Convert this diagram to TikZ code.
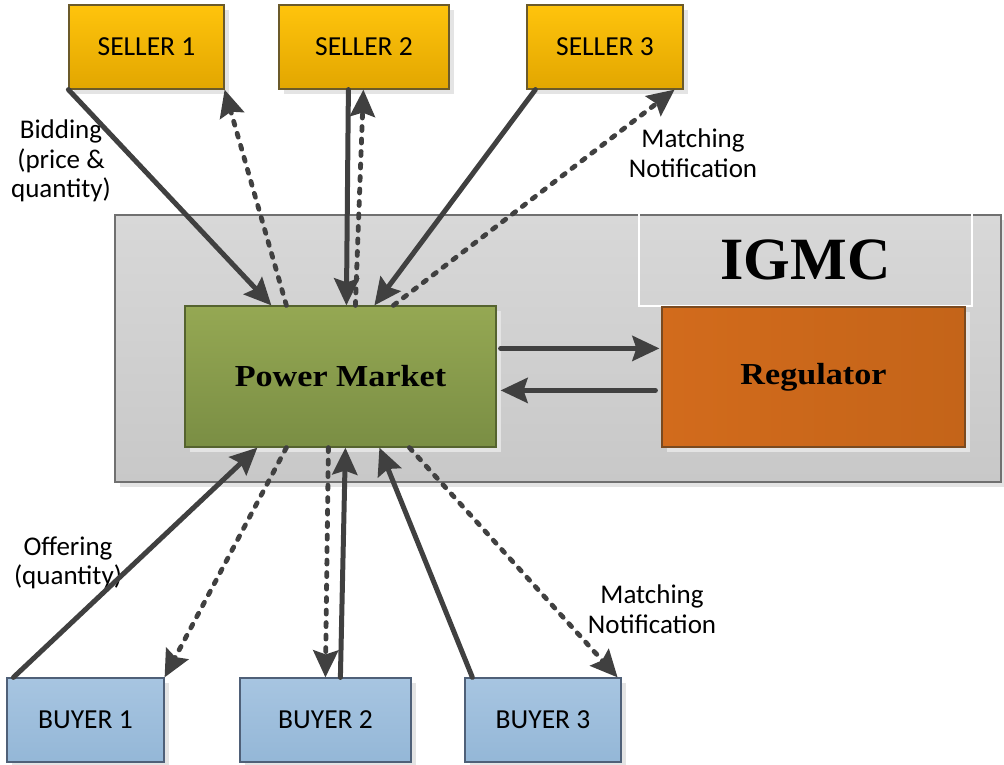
\documentclass[tikz,border=0pt]{standalone}
\usepackage{fontspec}
\setmainfont{Carlito}
\newfontfamily\serifb{Liberation Serif}[FakeStretch=1.12]
\newfontfamily\serifn{Liberation Serif}
\usetikzlibrary{arrows.meta,shadows}
\definecolor{linec}{HTML}{404040}
\definecolor{selltop}{HTML}{FFC40C}
\definecolor{sellbot}{HTML}{E2A600}
\definecolor{sellbd}{HTML}{6B5A2A}
\definecolor{pmtop}{HTML}{95A853}
\definecolor{pmbot}{HTML}{7A8E44}
\definecolor{pmbd}{HTML}{55632F}
\definecolor{regl}{HTML}{D26B1C}
\definecolor{regr}{HTML}{C46419}
\definecolor{regbd}{HTML}{7A4A20}
\definecolor{buytop}{HTML}{A7C5E1}
\definecolor{buybot}{HTML}{94B7D7}
\definecolor{buybd}{HTML}{4F6078}
\definecolor{grtop}{HTML}{D8D8D8}
\definecolor{grbot}{HTML}{C8C8C8}
\definecolor{grbd}{HTML}{707070}
\definecolor{shadowc}{HTML}{E4E4E4}
\begin{document}
\begin{tikzpicture}[x=1pt,y=-1pt,
  box/.style={rectangle, inner sep=0pt, line width=1.2pt,
    drop shadow={shadow xshift=5pt, shadow yshift=-5pt, fill=shadowc, opacity=1},
    font=\fontsize{27.5}{30}\selectfont},
  sellerbox/.style={box, draw=sellbd, top color=selltop, bottom color=sellbot,
    minimum height=84pt},
  buyerbox/.style={box, draw=buybd, top color=buytop, bottom color=buybot,
    minimum height=84pt},
  lbl/.style={align=center, inner sep=0pt, font=\fontsize{27}{29.5}\selectfont},
  arr/.style={draw=linec, line width=5pt, line cap=round,
    -{Stealth[length=27pt,width=25pt,inset=4pt,line cap=butt]}},
  darr/.style={arr, line width=4.8pt, line cap=round, dash pattern=on 4pt off 8.5pt}
]
\useasboundingbox (0,0) rectangle (1004,764);

% IGMC container
\node[box, draw=grbd, top color=grtop, bottom color=grbot,
  minimum width=886pt, minimum height=267pt] (igmc) at (558,348.5) {};
\node[rectangle, draw=white, line width=1.2pt, minimum width=333pt, minimum height=93pt,
  inner sep=0pt, font=\serifn\bfseries\fontsize{60}{60}\selectfont] (title) at (805.5,259.5) {IGMC};

% inner blocks
\node[box, draw=pmbd, top color=pmtop, bottom color=pmbot,
  minimum width=311pt, minimum height=141pt,
  font=\serifb\bfseries\fontsize{30.5}{32}\selectfont] (pm) at (340.5,376.5) {Power Market};
\node[box, draw=regbd, left color=regl, right color=regr,
  minimum width=303pt, minimum height=140pt,
  font=\serifb\bfseries\fontsize{30.5}{32}\selectfont] (reg) at (813.5,377) {Regulator};

% sellers
\node[sellerbox, minimum width=155pt] (s1) at (146.5,47) {SELLER 1};
\node[sellerbox, minimum width=170pt] (s2) at (364,47) {SELLER 2};
\node[sellerbox, minimum width=156pt] (s3) at (605,47) {SELLER 3};

% buyers
\node[buyerbox, minimum width=157pt] (b1) at (85.5,720) {BUYER 1};
\node[buyerbox, minimum width=171pt] (b2) at (325.5,720) {BUYER 2};
\node[buyerbox, minimum width=156pt] (b3) at (543,720) {BUYER 3};

% labels
\node[lbl] (lbid) at (61,161) {Bidding\\(price \&\\quantity)};
\node[lbl] (lmn1) at (693,153) {Matching\\Notification};
\node[lbl] (loff) at (68,563) {Offering\\(quantity)};
\node[lbl] (lmn2) at (652,609) {Matching\\Notification};

% seller connectors
\draw[arr] (s1.south west) -- ([shift={(87,0)}]pm.north west);
\draw[darr] ([shift={(102,0)}]pm.north west) -- (s1.south east);
\draw[arr] ([shift={(70,0)}]s2.south west) -- ([shift={(162,0)}]pm.north west);
\draw[darr] ([shift={(171,0)}]pm.north west) -- ([shift={(85,0)}]s2.south west);
\draw[arr] ([shift={(9,0)}]s3.south west) -- ([shift={(190,0)}]pm.north west);
\draw[darr] ([shift={(209,0)}]pm.north west) -- ([shift={(-9,0)}]s3.south east);

% buyer connectors
\draw[arr] ([shift={(7,0)}]b1.north west) -- ([shift={(73,0)}]pm.south west);
\draw[darr] ([shift={(102,0)}]pm.south west) -- (b1.north east);
\draw[darr] ([shift={(144,0)}]pm.south west) -- ([shift={(86,0)}]b2.north west);
\draw[arr] ([shift={(101,0)}]b2.north west) -- ([shift={(161,0)}]pm.south west);
\draw[arr] ([shift={(8,0)}]b3.north west) -- ([shift={(195,0)}]pm.south west);
\draw[darr] ([shift={(225,0)}]pm.south west) -- ([shift={(-4,0)}]b3.north east);

% market <-> regulator
\draw[arr] ([shift={(4,43)}]pm.north east) -- ([shift={(-2,42)}]reg.north west);
\draw[arr] ([shift={(-6,84)}]reg.north west) -- ([shift={(4,85)}]pm.north east);
\end{tikzpicture}
\end{document}
